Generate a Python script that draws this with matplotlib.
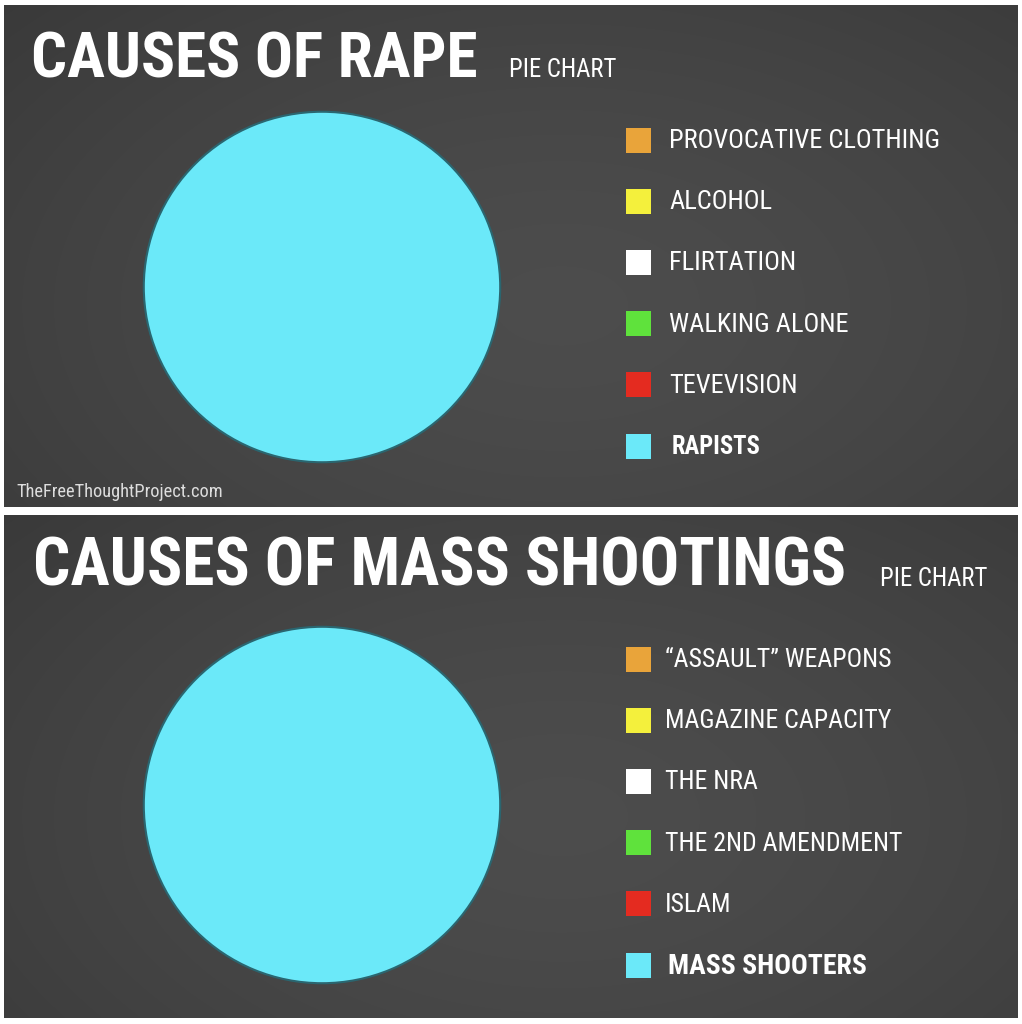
import numpy as np
import matplotlib
matplotlib.use("Agg")
import matplotlib.pyplot as plt
from matplotlib import font_manager
from matplotlib.patches import Rectangle

# data
rape_labels = ["PROVOCATIVE CLOTHING", "ALCOHOL", "FLIRTATION",
               "WALKING ALONE", "TEVEVISION", "RAPISTS"]
rape_values = [0, 0, 0, 0, 0, 100]
shoot_labels = ["\u201cASSAULT\u201d WEAPONS", "MAGAZINE CAPACITY", "THE NRA",
                "THE 2ND AMENDMENT", "ISLAM", "MASS SHOOTERS"]
shoot_values = [0, 0, 0, 0, 0, 100]
slice_colors = ["#E9A43A", "#F4F03C", "#FFFFFF", "#5FE23C", "#E42B20", "#6BE9F9"]

W, H = 1022, 1024

# pick a narrow family if one is there
installed = {f.name for f in font_manager.fontManager.ttflist}
narrow = "Roboto"
for cand in ["Liberation Sans Narrow", "Roboto Condensed", "DejaVu Sans Condensed",
             "Open Sans Condensed", "Noto Sans Condensed"]:
    if cand in installed:
        narrow = cand
        break
FONT = [narrow, "DejaVu Sans"]

fig = plt.figure(figsize=(W / 100, H / 100), dpi=100, facecolor="white")
renderer = fig.canvas.get_renderer()

# pixel coordinate overlay
bg = fig.add_axes([0, 0, 1, 1])
bg.axis("off")


def panel(y0, y1):
    x0, x1 = 4, 1018
    yy, xx = np.mgrid[0:1:200j, 0:1:200j]
    d = np.sqrt(((xx - 0.55) / 0.75) ** 2 + ((yy - 0.6) / 0.9) ** 2)
    shade = 0.30 - 0.075 * np.clip(d, 0, 1) ** 1.5
    img = np.dstack([shade, shade, shade])
    bg.imshow(img, extent=[x0, x1, y1, y0], aspect="auto", zorder=0,
              interpolation="bilinear")


panel(5, 507)
panel(515, 1018)
bg.set_xlim(0, W)
bg.set_ylim(H, 0)


def fit(t, width):
    # scale the font so the text spans the same width as in the picture
    w = t.get_window_extent(renderer).width
    t.set_fontsize(t.get_fontsize() * width / w)
    return t.get_fontsize()


def draw_block(title, title_x, title_w, pc_x, pc_w, base_y, labels, values,
               pie_box, leg_y0, text_x, first_w, last_w):
    t = bg.text(title_x, base_y, title, color="white", fontsize=40, fontweight="bold",
                family=FONT, va="baseline", ha="left", zorder=3)
    fit(t, title_w)
    t = bg.text(pc_x, base_y, "PIE CHART", color="white", fontsize=16,
                family=FONT, va="baseline", ha="left", zorder=3)
    fit(t, pc_w)

    px0, py0, pw, ph = pie_box
    ax = fig.add_axes([px0 / W, 1 - (py0 + ph) / H, pw / W, ph / H])
    ax.pie(values, colors=slice_colors, startangle=90, counterclock=False,
           wedgeprops=dict(linewidth=1.5, edgecolor="#2A6670"))
    ax.set_aspect("auto")
    ax.set_xlim(-1.01, 1.01)
    ax.set_ylim(-1.01, 1.01)
    ax.axis("off")

    size = None
    for i, (lab, col) in enumerate(zip(labels, slice_colors)):
        yc = leg_y0 + i * 61.2
        bg.add_patch(Rectangle((626, yc - 12.5), 25, 25, facecolor=col,
                               edgecolor="none", zorder=3))
        bold = i == len(labels) - 1
        t = bg.text(text_x + (3 if bold else 0), yc + 1, lab, color="white",
                    fontsize=size or 18, family=FONT,
                    fontweight="bold" if bold else "normal",
                    va="center", ha="left", zorder=3)
        if size is None:
            size = fit(t, first_w)
        elif bold:
            fit(t, last_w)


draw_block("CAUSES OF RAPE", 31, 446, 509, 108, 77, rape_labels, rape_values,
           (142, 110, 360, 354), 140, 669, 271, 89)
draw_block("CAUSES OF MASS SHOOTINGS", 33, 812, 880, 108, 586, shoot_labels,
           shoot_values, (142, 625, 360, 360), 659, 665, 226, 198)

t = bg.text(16, 492, "TheFreeThoughtProject.com", color="#DDDDDD", fontsize=10,
            family=FONT, va="center", ha="left", zorder=3)
fit(t, 206)

fig.savefig("out.png", dpi=100, facecolor="white")
